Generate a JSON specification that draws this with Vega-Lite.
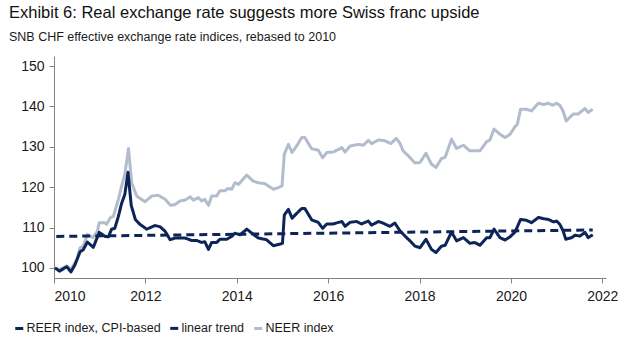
{
  "$schema": "https://vega.github.io/schema/vega-lite/v6.json",
  "width": 552,
  "height": 222,
  "autosize": "none",
  "padding": {"left": 54, "top": 56, "right": 31, "bottom": 82},
  "background": "white",
  "title": {
    "text": "Exhibit 6: Real exchange rate suggests more Swiss franc upside",
    "subtitle": "SNB CHF effective exchange rate indices, rebased to 2010",
    "anchor": "start",
    "frame": "group",
    "dx": -45,
    "offset": 13,
    "font": "Liberation Sans, Arial",
    "fontSize": 16.5,
    "fontWeight": "normal",
    "color": "#111111",
    "subtitleFont": "Liberation Sans, Arial",
    "subtitleFontSize": 12.5,
    "subtitleColor": "#1a1a1a",
    "subtitlePadding": 9
  },
  "config": {
    "view": {"stroke": null},
    "axis": {
      "domainColor": "#8c8273",
      "tickColor": "#8c8273",
      "tickSize": 5,
      "grid": false,
      "labelColor": "#1a1a1a",
      "labelFont": "Liberation Sans, Arial",
      "labelFontSize": 14,
      "title": null
    },
    "legend": {
      "orient": "none",
      "legendX": -41,
      "legendY": 266,
      "direction": "horizontal",
      "symbolType": "stroke",
      "symbolStrokeWidth": 3,
      "symbolSize": 64,
      "labelFont": "Liberation Sans, Arial",
      "labelFontSize": 12.5,
      "labelColor": "#1a1a1a",
      "labelLimit": 0,
      "labelOffset": 1,
      "columnPadding": 3,
      "title": null
    }
  },
  "data": {
    "values": [
      {"s": "NEER index", "t": 2010.02, "v": 100},
      {"s": "NEER index", "t": 2010.12, "v": 99.6},
      {"s": "NEER index", "t": 2010.28, "v": 100.5},
      {"s": "NEER index", "t": 2010.37, "v": 99.6},
      {"s": "NEER index", "t": 2010.5, "v": 102.1},
      {"s": "NEER index", "t": 2010.57, "v": 105},
      {"s": "NEER index", "t": 2010.64, "v": 105.4},
      {"s": "NEER index", "t": 2010.73, "v": 108.3},
      {"s": "NEER index", "t": 2010.85, "v": 107.5},
      {"s": "NEER index", "t": 2010.95, "v": 109.1},
      {"s": "NEER index", "t": 2010.99, "v": 111.2},
      {"s": "NEER index", "t": 2011.12, "v": 111.2},
      {"s": "NEER index", "t": 2011.15, "v": 110.8},
      {"s": "NEER index", "t": 2011.23, "v": 112.4},
      {"s": "NEER index", "t": 2011.3, "v": 112.8},
      {"s": "NEER index", "t": 2011.41, "v": 117},
      {"s": "NEER index", "t": 2011.48, "v": 120.3},
      {"s": "NEER index", "t": 2011.55, "v": 123.2},
      {"s": "NEER index", "t": 2011.63, "v": 129.6},
      {"s": "NEER index", "t": 2011.7, "v": 121.1},
      {"s": "NEER index", "t": 2011.81, "v": 117.8},
      {"s": "NEER index", "t": 2011.99, "v": 116.4},
      {"s": "NEER index", "t": 2012.14, "v": 117.8},
      {"s": "NEER index", "t": 2012.28, "v": 118.0},
      {"s": "NEER index", "t": 2012.43, "v": 117},
      {"s": "NEER index", "t": 2012.55, "v": 115.5},
      {"s": "NEER index", "t": 2012.65, "v": 115.7},
      {"s": "NEER index", "t": 2012.76, "v": 116.6},
      {"s": "NEER index", "t": 2012.87, "v": 116.8},
      {"s": "NEER index", "t": 2012.98, "v": 117.6},
      {"s": "NEER index", "t": 2013.05, "v": 116.8},
      {"s": "NEER index", "t": 2013.16, "v": 117.4},
      {"s": "NEER index", "t": 2013.23, "v": 116.6},
      {"s": "NEER index", "t": 2013.3, "v": 117},
      {"s": "NEER index", "t": 2013.38, "v": 115.5},
      {"s": "NEER index", "t": 2013.45, "v": 117.8},
      {"s": "NEER index", "t": 2013.56, "v": 117.8},
      {"s": "NEER index", "t": 2013.63, "v": 119.1},
      {"s": "NEER index", "t": 2013.74, "v": 119.1},
      {"s": "NEER index", "t": 2013.81, "v": 119.7},
      {"s": "NEER index", "t": 2013.89, "v": 119.5},
      {"s": "NEER index", "t": 2013.96, "v": 121.1},
      {"s": "NEER index", "t": 2014.04, "v": 120.7},
      {"s": "NEER index", "t": 2014.22, "v": 123},
      {"s": "NEER index", "t": 2014.36, "v": 121.5},
      {"s": "NEER index", "t": 2014.47, "v": 121.1},
      {"s": "NEER index", "t": 2014.61, "v": 120.9},
      {"s": "NEER index", "t": 2014.8, "v": 119.5},
      {"s": "NEER index", "t": 2014.91, "v": 119.9},
      {"s": "NEER index", "t": 2014.99, "v": 120.3},
      {"s": "NEER index", "t": 2015.04, "v": 128.2},
      {"s": "NEER index", "t": 2015.13, "v": 130.6},
      {"s": "NEER index", "t": 2015.21, "v": 128.6},
      {"s": "NEER index", "t": 2015.31, "v": 130.2},
      {"s": "NEER index", "t": 2015.42, "v": 132.3},
      {"s": "NEER index", "t": 2015.49, "v": 132.3},
      {"s": "NEER index", "t": 2015.64, "v": 129.5},
      {"s": "NEER index", "t": 2015.78, "v": 129.2},
      {"s": "NEER index", "t": 2015.88, "v": 127.3},
      {"s": "NEER index", "t": 2015.97, "v": 128.6},
      {"s": "NEER index", "t": 2016.11, "v": 128.7},
      {"s": "NEER index", "t": 2016.3, "v": 129.8},
      {"s": "NEER index", "t": 2016.37, "v": 128.7},
      {"s": "NEER index", "t": 2016.48, "v": 130.2},
      {"s": "NEER index", "t": 2016.66, "v": 130.6},
      {"s": "NEER index", "t": 2016.77, "v": 130.4},
      {"s": "NEER index", "t": 2016.88, "v": 131.6},
      {"s": "NEER index", "t": 2016.95, "v": 130.8},
      {"s": "NEER index", "t": 2017.1, "v": 131.7},
      {"s": "NEER index", "t": 2017.24, "v": 131.5},
      {"s": "NEER index", "t": 2017.37, "v": 130.8},
      {"s": "NEER index", "t": 2017.49, "v": 132.1},
      {"s": "NEER index", "t": 2017.57, "v": 130.9},
      {"s": "NEER index", "t": 2017.64, "v": 129},
      {"s": "NEER index", "t": 2017.75, "v": 127.8},
      {"s": "NEER index", "t": 2017.9, "v": 126},
      {"s": "NEER index", "t": 2018.01, "v": 126.1},
      {"s": "NEER index", "t": 2018.14, "v": 128.4},
      {"s": "NEER index", "t": 2018.26, "v": 125.7},
      {"s": "NEER index", "t": 2018.36, "v": 124.9},
      {"s": "NEER index", "t": 2018.48, "v": 127.1},
      {"s": "NEER index", "t": 2018.56, "v": 127.4},
      {"s": "NEER index", "t": 2018.7, "v": 131.9},
      {"s": "NEER index", "t": 2018.81, "v": 129.6},
      {"s": "NEER index", "t": 2018.96, "v": 130.4},
      {"s": "NEER index", "t": 2019.1, "v": 129},
      {"s": "NEER index", "t": 2019.21, "v": 129},
      {"s": "NEER index", "t": 2019.32, "v": 129},
      {"s": "NEER index", "t": 2019.47, "v": 131.3},
      {"s": "NEER index", "t": 2019.54, "v": 131.7},
      {"s": "NEER index", "t": 2019.63, "v": 134.4},
      {"s": "NEER index", "t": 2019.76, "v": 133.1},
      {"s": "NEER index", "t": 2019.87, "v": 132.3},
      {"s": "NEER index", "t": 2019.98, "v": 133.1},
      {"s": "NEER index", "t": 2020.09, "v": 135},
      {"s": "NEER index", "t": 2020.14, "v": 135.6},
      {"s": "NEER index", "t": 2020.21, "v": 139.3},
      {"s": "NEER index", "t": 2020.34, "v": 139.3},
      {"s": "NEER index", "t": 2020.45, "v": 138.9},
      {"s": "NEER index", "t": 2020.6, "v": 140.8},
      {"s": "NEER index", "t": 2020.71, "v": 140.5},
      {"s": "NEER index", "t": 2020.82, "v": 140.8},
      {"s": "NEER index", "t": 2020.91, "v": 140.3},
      {"s": "NEER index", "t": 2021.0, "v": 140.8},
      {"s": "NEER index", "t": 2021.07, "v": 140.3},
      {"s": "NEER index", "t": 2021.14, "v": 138.9},
      {"s": "NEER index", "t": 2021.21, "v": 136.4},
      {"s": "NEER index", "t": 2021.36, "v": 138.1},
      {"s": "NEER index", "t": 2021.47, "v": 138.1},
      {"s": "NEER index", "t": 2021.62, "v": 139.5},
      {"s": "NEER index", "t": 2021.69, "v": 138.5},
      {"s": "NEER index", "t": 2021.79, "v": 139.3},
      {"s": "REER index, CPI-based", "t": 2010.02, "v": 100},
      {"s": "REER index, CPI-based", "t": 2010.12, "v": 99.2},
      {"s": "REER index, CPI-based", "t": 2010.28, "v": 100.3},
      {"s": "REER index, CPI-based", "t": 2010.37, "v": 99.0},
      {"s": "REER index, CPI-based", "t": 2010.46, "v": 100.8},
      {"s": "REER index, CPI-based", "t": 2010.57, "v": 104.0},
      {"s": "REER index, CPI-based", "t": 2010.64, "v": 104.5},
      {"s": "REER index, CPI-based", "t": 2010.73, "v": 106.4},
      {"s": "REER index, CPI-based", "t": 2010.86, "v": 105.1},
      {"s": "REER index, CPI-based", "t": 2010.99, "v": 108.8},
      {"s": "REER index, CPI-based", "t": 2011.12, "v": 107.8},
      {"s": "REER index, CPI-based", "t": 2011.19, "v": 107.7},
      {"s": "REER index, CPI-based", "t": 2011.26, "v": 109.6},
      {"s": "REER index, CPI-based", "t": 2011.33, "v": 109.8},
      {"s": "REER index, CPI-based", "t": 2011.41, "v": 112.8},
      {"s": "REER index, CPI-based", "t": 2011.48, "v": 116},
      {"s": "REER index, CPI-based", "t": 2011.55, "v": 118.2},
      {"s": "REER index, CPI-based", "t": 2011.62, "v": 123.7},
      {"s": "REER index, CPI-based", "t": 2011.69, "v": 115.5},
      {"s": "REER index, CPI-based", "t": 2011.78, "v": 112},
      {"s": "REER index, CPI-based", "t": 2011.88, "v": 110.8},
      {"s": "REER index, CPI-based", "t": 2012.03, "v": 109.6},
      {"s": "REER index, CPI-based", "t": 2012.21, "v": 110.5},
      {"s": "REER index, CPI-based", "t": 2012.32, "v": 110.2},
      {"s": "REER index, CPI-based", "t": 2012.43, "v": 109.1},
      {"s": "REER index, CPI-based", "t": 2012.54, "v": 107},
      {"s": "REER index, CPI-based", "t": 2012.65, "v": 107.4},
      {"s": "REER index, CPI-based", "t": 2012.76, "v": 107.4},
      {"s": "REER index, CPI-based", "t": 2012.87, "v": 107.4},
      {"s": "REER index, CPI-based", "t": 2013.01, "v": 106.8},
      {"s": "REER index, CPI-based", "t": 2013.12, "v": 106.8},
      {"s": "REER index, CPI-based", "t": 2013.23, "v": 106.3},
      {"s": "REER index, CPI-based", "t": 2013.3, "v": 106.5},
      {"s": "REER index, CPI-based", "t": 2013.38, "v": 104.6},
      {"s": "REER index, CPI-based", "t": 2013.45, "v": 106.3},
      {"s": "REER index, CPI-based", "t": 2013.56, "v": 106.3},
      {"s": "REER index, CPI-based", "t": 2013.63, "v": 107.1},
      {"s": "REER index, CPI-based", "t": 2013.78, "v": 107.1},
      {"s": "REER index, CPI-based", "t": 2013.89, "v": 107.8},
      {"s": "REER index, CPI-based", "t": 2013.96, "v": 108.6},
      {"s": "REER index, CPI-based", "t": 2014.07, "v": 108.2},
      {"s": "REER index, CPI-based", "t": 2014.22, "v": 109.6},
      {"s": "REER index, CPI-based", "t": 2014.33, "v": 108.6},
      {"s": "REER index, CPI-based", "t": 2014.47, "v": 107.4},
      {"s": "REER index, CPI-based", "t": 2014.65, "v": 107},
      {"s": "REER index, CPI-based", "t": 2014.8, "v": 105.5},
      {"s": "REER index, CPI-based", "t": 2014.95, "v": 105.9},
      {"s": "REER index, CPI-based", "t": 2015.0, "v": 106.1},
      {"s": "REER index, CPI-based", "t": 2015.04, "v": 113.1},
      {"s": "REER index, CPI-based", "t": 2015.13, "v": 114.5},
      {"s": "REER index, CPI-based", "t": 2015.21, "v": 112.3},
      {"s": "REER index, CPI-based", "t": 2015.31, "v": 113.5},
      {"s": "REER index, CPI-based", "t": 2015.42, "v": 114.7},
      {"s": "REER index, CPI-based", "t": 2015.49, "v": 114.7},
      {"s": "REER index, CPI-based", "t": 2015.64, "v": 111.9},
      {"s": "REER index, CPI-based", "t": 2015.78, "v": 111.3},
      {"s": "REER index, CPI-based", "t": 2015.88, "v": 109.8},
      {"s": "REER index, CPI-based", "t": 2015.97, "v": 110.9},
      {"s": "REER index, CPI-based", "t": 2016.11, "v": 110.9},
      {"s": "REER index, CPI-based", "t": 2016.3, "v": 111.5},
      {"s": "REER index, CPI-based", "t": 2016.37, "v": 110.3},
      {"s": "REER index, CPI-based", "t": 2016.48, "v": 111.3},
      {"s": "REER index, CPI-based", "t": 2016.62, "v": 111.5},
      {"s": "REER index, CPI-based", "t": 2016.73, "v": 110.9},
      {"s": "REER index, CPI-based", "t": 2016.88, "v": 111.6},
      {"s": "REER index, CPI-based", "t": 2016.95, "v": 110.6},
      {"s": "REER index, CPI-based", "t": 2017.1, "v": 111.5},
      {"s": "REER index, CPI-based", "t": 2017.2, "v": 111.1},
      {"s": "REER index, CPI-based", "t": 2017.35, "v": 110.3},
      {"s": "REER index, CPI-based", "t": 2017.46, "v": 111.1},
      {"s": "REER index, CPI-based", "t": 2017.57, "v": 109.2},
      {"s": "REER index, CPI-based", "t": 2017.68, "v": 107.9},
      {"s": "REER index, CPI-based", "t": 2017.79, "v": 106.7},
      {"s": "REER index, CPI-based", "t": 2017.9, "v": 105.4},
      {"s": "REER index, CPI-based", "t": 2018.01, "v": 105},
      {"s": "REER index, CPI-based", "t": 2018.14, "v": 107.1},
      {"s": "REER index, CPI-based", "t": 2018.26, "v": 104.6},
      {"s": "REER index, CPI-based", "t": 2018.36, "v": 103.8},
      {"s": "REER index, CPI-based", "t": 2018.48, "v": 105.4},
      {"s": "REER index, CPI-based", "t": 2018.56, "v": 105.6},
      {"s": "REER index, CPI-based", "t": 2018.7, "v": 108.9},
      {"s": "REER index, CPI-based", "t": 2018.81, "v": 106.7},
      {"s": "REER index, CPI-based", "t": 2018.96, "v": 107.5},
      {"s": "REER index, CPI-based", "t": 2019.1, "v": 106.1},
      {"s": "REER index, CPI-based", "t": 2019.21, "v": 106.3},
      {"s": "REER index, CPI-based", "t": 2019.32, "v": 105.6},
      {"s": "REER index, CPI-based", "t": 2019.47, "v": 107.5},
      {"s": "REER index, CPI-based", "t": 2019.54, "v": 107.5},
      {"s": "REER index, CPI-based", "t": 2019.63, "v": 109.6},
      {"s": "REER index, CPI-based", "t": 2019.76, "v": 107.5},
      {"s": "REER index, CPI-based", "t": 2019.87, "v": 106.9},
      {"s": "REER index, CPI-based", "t": 2019.98, "v": 107.7},
      {"s": "REER index, CPI-based", "t": 2020.09, "v": 108.9},
      {"s": "REER index, CPI-based", "t": 2020.21, "v": 112.0},
      {"s": "REER index, CPI-based", "t": 2020.34, "v": 111.8},
      {"s": "REER index, CPI-based", "t": 2020.45, "v": 111.2},
      {"s": "REER index, CPI-based", "t": 2020.6, "v": 112.5},
      {"s": "REER index, CPI-based", "t": 2020.71, "v": 112.2},
      {"s": "REER index, CPI-based", "t": 2020.82, "v": 112.0},
      {"s": "REER index, CPI-based", "t": 2020.93, "v": 111.4},
      {"s": "REER index, CPI-based", "t": 2021.0, "v": 111.6},
      {"s": "REER index, CPI-based", "t": 2021.07, "v": 110.8},
      {"s": "REER index, CPI-based", "t": 2021.14, "v": 109.2},
      {"s": "REER index, CPI-based", "t": 2021.2, "v": 107.1},
      {"s": "REER index, CPI-based", "t": 2021.33, "v": 107.5},
      {"s": "REER index, CPI-based", "t": 2021.4, "v": 108.1},
      {"s": "REER index, CPI-based", "t": 2021.51, "v": 107.9},
      {"s": "REER index, CPI-based", "t": 2021.62, "v": 108.8},
      {"s": "REER index, CPI-based", "t": 2021.69, "v": 107.5},
      {"s": "REER index, CPI-based", "t": 2021.79, "v": 108.2},
      {"s": "linear trend", "t": 2010.05, "v": 107.8},
      {"s": "linear trend", "t": 2021.79, "v": 109.4}
    ]
  },
  "mark": {"type": "line", "strokeWidth": 3, "strokeJoin": "round"},
  "encoding": {
    "x": {
      "field": "t",
      "type": "quantitative",
      "scale": {"domain": [2010, 2022.08], "nice": false, "zero": false},
      "axis": {"values": [2010, 2012, 2014, 2016, 2018, 2020, 2022], "format": "d", "labelPadding": 6}
    },
    "y": {
      "field": "v",
      "type": "quantitative",
      "scale": {"domain": [97.5, 152.5], "nice": false, "zero": false},
      "axis": {"values": [100, 110, 120, 130, 140, 150], "labelPadding": 5}
    },
    "color": {
      "field": "s",
      "type": "nominal",
      "sort": null,
      "scale": {
        "domain": ["REER index, CPI-based", "linear trend", "NEER index"],
        "range": ["#0d2458", "#0d2458", "#b3bccd"]
      }
    },
    "strokeDash": {
      "field": "s",
      "type": "nominal",
      "sort": null,
      "scale": {
        "domain": ["REER index, CPI-based", "linear trend", "NEER index"],
        "range": [[1, 0], [8, 5], [1, 0]]
      }
    }
  }
}
